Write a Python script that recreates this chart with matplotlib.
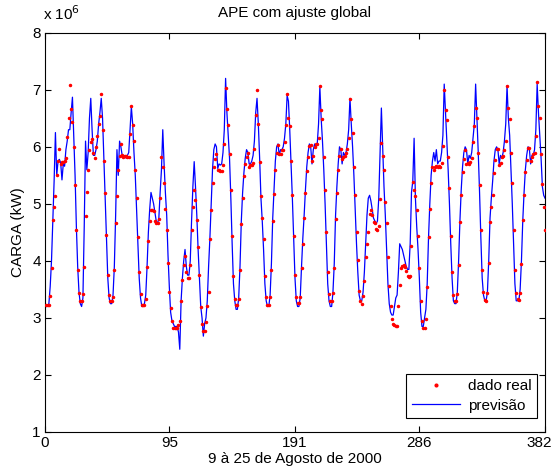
import matplotlib
matplotlib.use("Agg")
import matplotlib.pyplot as plt
import matplotlib.transforms as mtransforms
import numpy as np

plt.rcParams['font.family'] = ['Liberation Sans', 'DejaVu Sans']

# carga medida (x 10^6 kW), 382 horas
dado_real = [
    3.22, 3.22, 3.22, 3.39, 3.87, 4.72, 4.95, 5.13, 5.50, 5.75,
    5.96, 5.70, 5.73, 5.73, 5.76, 5.80, 6.18, 6.50, 7.09, 6.67,
    6.43, 6.00, 5.33, 4.54, 3.84, 3.44, 3.29, 3.29, 3.42, 3.89,
    4.79, 5.20, 5.60, 5.94, 6.09, 6.13, 5.89, 5.80, 6.00, 6.19,
    6.40, 6.54, 6.92, 6.30, 5.75, 5.19, 4.46, 3.75, 3.40, 3.29,
    3.29, 3.37, 3.84, 4.67, 5.13, 5.60, 5.84, 6.05, 5.86, 5.83,
    5.84, 5.84, 5.83, 5.83, 6.22, 6.72, 6.39, 6.11, 5.60, 5.10,
    4.41, 3.80, 3.42, 3.22, 3.22, 3.22, 3.34, 3.89, 4.35, 4.70,
    4.90, 4.90, 4.87, 4.70, 4.67, 4.67, 4.74, 5.10, 5.83, 5.65,
    5.36, 4.91, 4.54, 3.96, 3.46, 3.17, 2.94, 2.83, 2.83, 2.83,
    2.83, 2.88, 2.95, 3.29, 3.67, 3.93, 4.08, 3.81, 3.70, 3.70,
    3.93, 4.54, 4.95, 5.25, 5.07, 4.72, 4.25, 3.75, 3.19, 2.89,
    2.77, 2.77, 2.92, 3.20, 3.46, 4.39, 4.90, 5.36, 5.64, 5.78,
    5.87, 5.60, 5.60, 5.58, 5.58, 5.68, 6.05, 7.03, 6.67, 6.39,
    5.87, 5.25, 4.43, 3.73, 3.34, 3.22, 3.22, 3.34, 3.84, 4.64,
    5.10, 5.49, 5.70, 5.83, 5.90, 5.65, 5.68, 5.68, 5.71, 5.96,
    6.56, 7.00, 6.40, 5.73, 5.14, 4.75, 4.38, 3.73, 3.37, 3.23,
    3.23, 3.37, 3.84, 4.70, 5.18, 5.60, 5.89, 6.04, 5.88, 5.88,
    5.94, 5.94, 6.08, 6.39, 6.92, 6.50, 6.36, 5.75, 5.16, 4.43,
    3.75, 3.37, 3.26, 3.26, 3.37, 3.87, 4.30, 4.75, 5.19, 5.58,
    5.83, 6.01, 6.03, 5.75, 5.84, 6.00, 6.05, 6.05, 6.15, 7.07,
    6.65, 6.49, 5.83, 5.25, 4.51, 3.80, 3.42, 3.29, 3.29, 3.43,
    3.88, 4.73, 5.19, 5.60, 5.84, 5.96, 5.78, 5.83, 5.84, 5.89,
    5.96, 6.15, 6.83, 6.49, 6.25, 5.65, 5.16, 4.51, 4.02, 3.47,
    3.29, 3.24, 3.39, 3.65, 4.06, 4.30, 4.51, 4.83, 4.89, 4.80,
    4.69, 4.67, 4.56, 4.54, 4.61, 5.09, 6.06, 5.84, 5.60, 5.04,
    4.66, 4.06, 3.56, 3.20, 2.98, 2.89, 2.88, 2.86, 2.86, 3.20,
    3.58, 3.87, 3.91, 3.92, 3.89, 3.82, 3.73, 3.72, 3.74, 4.26,
    5.39, 5.25, 5.13, 4.89, 4.43, 3.88, 3.29, 2.95, 2.83, 2.83,
    2.98, 3.55, 4.42, 4.91, 5.36, 5.65, 5.60, 5.65, 5.67, 5.65,
    5.67, 5.65, 5.71, 6.02, 6.99, 6.65, 6.47, 5.83, 5.27, 4.44,
    3.81, 3.40, 3.29, 3.29, 3.42, 3.93, 4.69, 5.16, 5.55, 5.78,
    5.94, 5.70, 5.71, 5.70, 5.73, 5.80, 6.09, 6.36, 6.68, 6.50,
    5.90, 5.33, 4.55, 3.84, 3.46, 3.32, 3.29, 3.43, 3.96, 4.68,
    4.95, 5.15, 5.54, 5.77, 5.96, 5.96, 5.68, 5.72, 5.83, 5.84,
    5.95, 6.11, 7.07, 6.68, 6.49, 5.90, 5.36, 4.54, 3.84, 3.43,
    3.33, 3.32, 3.43, 3.95, 4.71, 5.15, 5.55, 5.77, 5.98, 5.98,
    5.75, 5.83, 5.88, 5.89, 6.19, 7.13, 6.72, 6.50, 5.87, 5.35,
    4.95, 4.55,
]

# carga prevista pelo modelo
previsao = [
    3.20, 3.20, 3.25, 3.55, 4.00, 4.70, 5.40, 6.25, 5.50, 5.75,
    5.78, 5.72, 5.42, 5.70, 5.66, 5.95, 6.10, 6.30, 6.30, 6.60,
    6.87, 6.20, 5.50, 4.60, 3.90, 3.45, 3.25, 3.20, 3.35, 4.60,
    6.10, 5.60, 5.90, 6.50, 6.85, 6.30, 5.85, 5.85, 5.95, 6.10,
    6.40, 6.60, 6.85, 6.50, 5.80, 5.10, 4.40, 3.70, 3.35, 3.25,
    3.25, 3.40, 3.90, 4.80, 5.95, 5.50, 6.10, 6.00, 5.85, 5.80,
    5.85, 5.80, 5.85, 5.90, 6.30, 6.70, 6.40, 5.90, 5.50, 4.90,
    4.30, 3.70, 3.35, 3.20, 3.20, 3.25, 3.40, 3.90, 4.50, 4.90,
    5.20, 5.10, 5.00, 4.85, 4.70, 4.65, 4.75, 5.20, 5.60, 6.30,
    5.70, 5.20, 4.80, 4.10, 3.55, 3.10, 2.95, 2.90, 2.85, 2.85,
    2.85, 2.75, 2.45, 3.30, 3.70, 4.00, 4.20, 3.90, 3.75, 3.75,
    4.00, 4.70, 5.30, 5.74, 5.30, 4.80, 4.20, 3.70, 3.20, 3.00,
    2.68, 2.90, 3.00, 3.30, 3.90, 4.40, 5.00, 5.60, 5.95, 6.05,
    6.00, 5.62, 5.70, 5.68, 5.70, 5.90, 6.30, 7.20, 6.60, 6.20,
    5.80, 5.10, 4.30, 3.60, 3.30, 3.15, 3.15, 3.35, 3.90, 4.70,
    5.20, 5.55, 5.80, 5.95, 5.90, 5.70, 5.70, 5.75, 5.85, 6.10,
    6.60, 6.85, 6.40, 5.80, 5.10, 4.70, 4.20, 3.60, 3.30, 3.20,
    3.20, 3.40, 3.95, 4.75, 5.25, 5.75, 6.00, 6.05, 5.85, 5.95,
    5.95, 6.00, 6.15, 6.40, 6.90, 6.80, 6.30, 5.70, 5.10, 4.40,
    3.70, 3.30, 3.20, 3.20, 3.35, 3.90, 4.40, 4.80, 5.25, 5.65,
    5.90, 6.05, 6.00, 5.70, 5.95, 6.05, 6.00, 6.05, 6.40, 7.05,
    6.50, 6.10, 5.60, 5.00, 4.30, 3.60, 3.30, 3.20, 3.20, 3.45,
    3.95, 4.80, 5.30, 5.70, 6.00, 5.95, 5.70, 5.90, 5.85, 5.90,
    6.05, 6.30, 6.85, 6.40, 6.00, 5.50, 4.90, 4.30, 3.80, 3.40,
    3.30, 3.30, 3.45, 3.80, 4.30, 4.80, 5.10, 5.15, 5.05, 4.90,
    4.75, 4.70, 4.65, 4.70, 5.10, 5.90, 6.68, 6.00, 5.30, 4.80,
    4.20, 3.60, 3.25, 3.10, 3.05, 3.05, 3.20, 3.35, 3.40, 3.80,
    4.30, 4.25, 4.20, 4.10, 4.00, 3.90, 3.85, 3.85, 4.30, 5.20,
    5.40, 6.15, 5.10, 4.60, 4.20, 3.70, 3.10, 2.85, 2.85, 3.00,
    3.15, 3.60, 4.40, 5.00, 5.50, 5.75, 5.90, 5.75, 5.95, 5.70,
    5.75, 5.75, 5.90, 6.20, 7.10, 6.60, 6.10, 5.60, 5.00, 4.30,
    3.70, 3.30, 3.25, 3.25, 3.45, 4.00, 4.70, 5.25, 5.65, 5.90,
    6.00, 5.95, 5.70, 5.85, 5.80, 5.90, 6.15, 6.40, 7.10, 6.50,
    5.90, 5.20, 4.40, 3.70, 3.40, 3.30, 3.30, 3.45, 4.00, 4.75,
    5.10, 5.40, 5.75, 5.95, 6.00, 5.95, 5.70, 5.85, 5.80, 5.90,
    6.10, 6.40, 7.07, 6.50, 6.20, 5.60, 5.00, 4.30, 3.60, 3.30,
    3.30, 3.30, 3.50, 4.00, 4.70, 5.20, 5.60, 5.85, 6.00, 5.98,
    5.70, 5.85, 5.85, 5.95, 6.30, 7.10, 6.60, 6.20, 5.80, 5.30,
    5.15, 5.10,
]

x_ticks = [0, 95, 191, 286, 382]
y_ticks = [1, 2, 3, 4, 5, 6, 7, 8]

horas = np.arange(1, len(dado_real) + 1)

fig = plt.figure(figsize=(5.55, 4.68), dpi=100)
ax = fig.add_axes([0.081, 0.077, 0.901, 0.853])

# pontos reais e curva prevista (estilo matlab)
ax.plot(horas, dado_real, 'r.', markersize=3, label='dado real', zorder=3)
ax.plot(horas, previsao, color=(0, 0, 1), linewidth=0.9, label='previs\u00e3o', zorder=2)

ax.set_xlim(0, 382)
ax.set_ylim(1, 8)
ax.set_xticks(x_ticks)
ax.set_yticks(y_ticks)
ax.tick_params(direction='in', top=True, right=True, length=4, labelsize=11, pad=3)
for s in ax.spines.values():
    s.set_linewidth(0.8)

# o ultimo rotulo (382) fica um pouco para dentro, como no original
ultimo = ax.get_xticklabels()[-1]
ultimo.set_transform(ultimo.get_transform() +
                     mtransforms.ScaledTranslation(-6 / 100, 0, fig.dpi_scale_trans))

ax.set_title('APE com ajuste global', fontsize=11, pad=11)
ax.set_xlabel('9 \u00e0 25 de Agosto de 2000', fontsize=11, labelpad=1)
ax.set_ylabel('CARGA (kW)', fontsize=11, labelpad=5)
ax.text(-0.004, 1.025, r'x 10$^{6}$', transform=ax.transAxes, fontsize=11,
        ha='left', va='bottom')

leg = ax.legend(loc='lower right', bbox_to_anchor=(0.984, 0.035), borderaxespad=0,
                fontsize=11, fancybox=False, edgecolor='black', framealpha=1,
                handlelength=3.2, handletextpad=0.5, borderpad=0.35,
                labelspacing=0.35, markerscale=1.3)
leg.get_frame().set_linewidth(0.8)

fig.savefig('out.png', dpi=100)
